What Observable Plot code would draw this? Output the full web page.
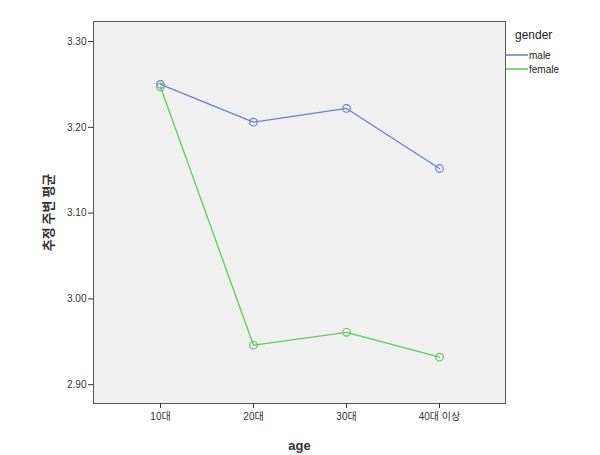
<!DOCTYPE html>
<html><head><meta charset="utf-8">
<script src="https://cdn.jsdelivr.net/npm/d3@7"></script>
<script src="https://cdn.jsdelivr.net/npm/@observablehq/plot@0.6"></script>
<style>
body{margin:0;background:#fff;font-family:"Liberation Sans","Noto Sans CJK KR",sans-serif;}
#wrap{position:relative;width:600px;height:455px;}
#legend{position:absolute;left:506px;top:28px;font-size:12px;color:#222;}
#legend .row{display:flex;align-items:center;font-size:10px;height:14px;}
#legend svg{margin-right:1px;}
</style></head><body>
<div id="wrap"><div id="legend"></div></div>
<script>
const ages = ["10대", "20대", "30대", "40대 이상"];
const genders = ["male", "female"];
const maleMeans = [3.250, 3.206, 3.222, 3.152];
const femaleMeans = [3.247, 2.946, 2.961, 2.932];
const yTicks = [2.90, 3.00, 3.10, 3.20, 3.30];
const colors = ["#6f80c8", "#5fca5f"];

const data = [];
ages.forEach((a, i) => {
  data.push({age: a, gender: "male", mean: maleMeans[i]});
  data.push({age: a, gender: "female", mean: femaleMeans[i]});
});

const chart = Plot.plot({
  width: 600, height: 455,
  marginLeft: 93, marginRight: 95, marginTop: 21, marginBottom: 52,
  style: {background: "white", fontSize: "10px", fontFamily: "'Liberation Sans','Noto Sans CJK KR',sans-serif", color: "#333"},
  x: {type: "point", domain: ages, padding: 0.715, label: null},
  y: {domain: [2.878, 3.3234], label: null},
  color: {domain: genders, range: colors},
  marks: [
    Plot.frame({fill: "#f0f0f0", stroke: "#555", strokeWidth: 1}),
    Plot.axisY({ticks: yTicks, tickFormat: d3.format(".2f"), tickSize: 5, tickPadding: 2, label: null}),
    Plot.axisY({ticks: [], label: "추정 주변 평균", labelAnchor: "center", labelArrow: "none", labelOffset: 50, fontSize: 13, fontWeight: "bold", fontFamily: "'Noto Sans CJK KR',sans-serif"}),
    Plot.axisX({tickSize: 5, tickPadding: 4, label: null}),
    Plot.axisX({ticks: [], label: "age", labelAnchor: "center", labelArrow: "none", labelOffset: 46, fontSize: 13, fontWeight: "bold"}),
    Plot.line(data, {x: "age", y: "mean", z: "gender", stroke: "gender", strokeWidth: 1.3}),
    Plot.dot(data, {x: "age", y: "mean", stroke: "gender", r: 3.8, strokeWidth: 1.2})
  ]
});
document.getElementById("wrap").prepend(chart);

const lg = document.getElementById("legend");
lg.innerHTML = `<div style="margin-left:9px;margin-bottom:6px">gender</div>` +
  genders.map((g, i) => `<div class="row"><svg width="22" height="4"><line x1="0" x2="22" y1="2" y2="2" stroke="${colors[i]}" stroke-width="1.6"/></svg>${g}</div>`).join("");
</script>
</body></html>
